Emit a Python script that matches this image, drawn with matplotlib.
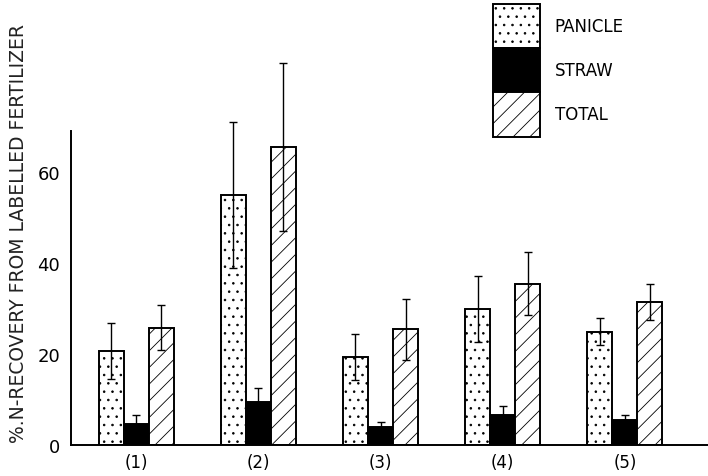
import numpy as np
import matplotlib
matplotlib.use('Agg')
import matplotlib.pyplot as plt
from matplotlib.patches import Patch

# treatments (1)..(5)
groups  = ['(1)', '(2)', '(3)', '(4)', '(5)']
panicle = [20.7, 55.0, 19.3, 29.9, 24.9]
pan_err = [6.2, 16.0, 5.0, 7.2, 3.0]
straw   = [4.7, 9.5, 3.9, 6.7, 5.6]
str_err = [2.0, 3.0, 1.2, 1.8, 1.0]
total   = [25.8, 65.5, 25.4, 35.5, 31.5]
tot_err = [5.0, 18.5, 6.8, 7.0, 4.0]
yticks  = [0, 20, 40, 60]

plt.rcParams['hatch.linewidth'] = 0.6

fig = plt.figure(figsize=(7.08, 4.77), dpi=100)
ax = fig.add_axes([0.1003, 0.065, 0.8997, 0.658])

x = np.arange(1, len(groups) + 1)
w = 0.205
ekw = dict(elinewidth=1.0, capsize=3, capthick=1.0, ecolor='black', clip_on=False)

ax.bar(x - w, panicle, w, yerr=pan_err, color='white', edgecolor='black',
       linewidth=1.4, hatch='..', error_kw=ekw)
ax.bar(x, straw, w, yerr=str_err, color='black', edgecolor='black',
       linewidth=1.4, error_kw=ekw)
ax.bar(x + w, total, w, yerr=tot_err, color='white', edgecolor='black',
       linewidth=1.4, hatch='//', error_kw=ekw)

ax.set_xlim(0.467, 5.68)
ax.set_ylim(0, 69)
ax.set_xticks(x)
ax.set_xticklabels(groups, fontsize=12)
ax.set_yticks(yticks)
ax.set_yticklabels([str(v) for v in yticks], fontsize=13)
ax.tick_params(axis='both', length=0, pad=6)
ax.tick_params(axis='y', pad=8)
for s in ['top', 'right']:
    ax.spines[s].set_visible(False)
ax.spines['left'].set_linewidth(1.4)
ax.spines['bottom'].set_linewidth(1.4)

fig.text(0.026, 0.51, '%.N-RECOVERY FROM LABELLED FERTILIZER', rotation=90,
         ha='center', va='center', fontsize=13.5, color='#222222')

handles = [Patch(facecolor='white', edgecolor='black', hatch='..', linewidth=1.4),
           Patch(facecolor='black', edgecolor='black', linewidth=1.4),
           Patch(facecolor='white', edgecolor='black', hatch='//', linewidth=1.4)]
fig.legend(handles, ['PANICLE', 'STRAW', 'TOTAL'], loc='upper left',
           bbox_to_anchor=(493 / 708, 1 - 5 / 477), frameon=False,
           fontsize=12, handlelength=2.8, handleheight=3.7, labelspacing=0,
           handletextpad=0.9, borderpad=0, borderaxespad=0)

fig.savefig('out.png', dpi=100)
